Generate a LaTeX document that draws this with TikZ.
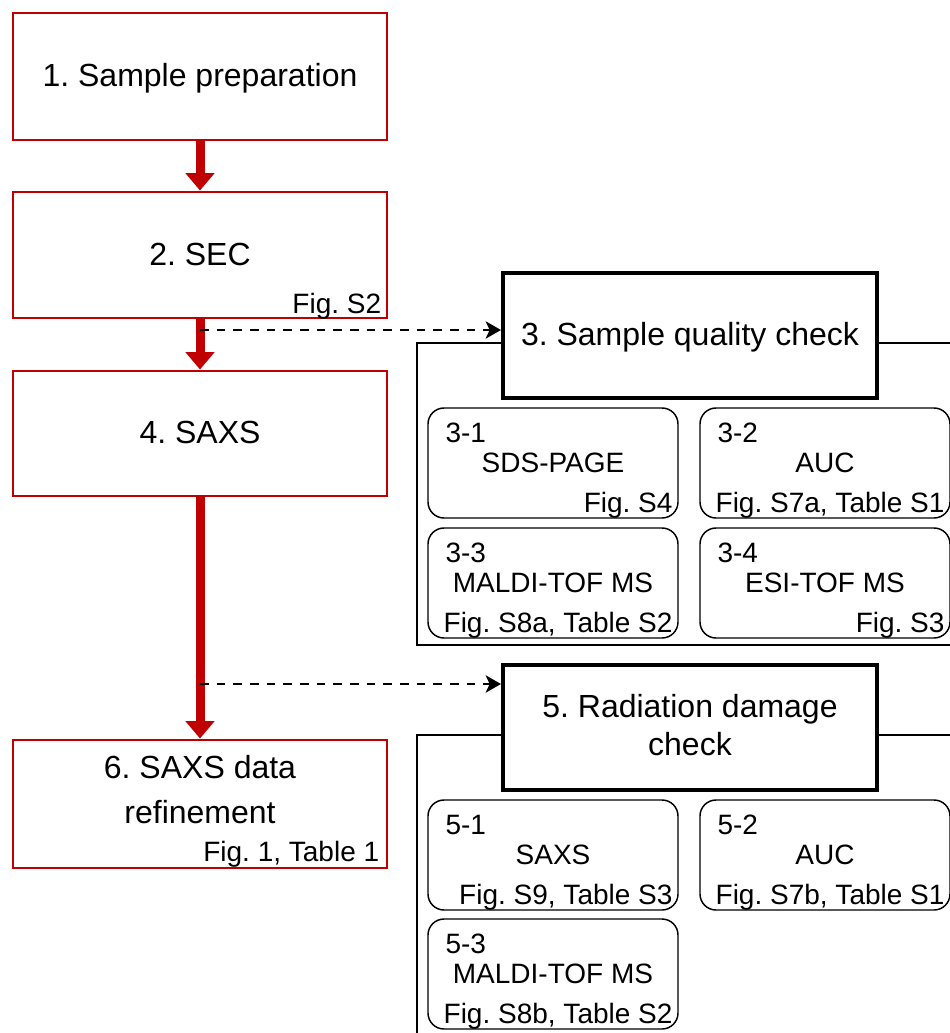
\documentclass[tikz,border=0pt]{standalone}
\usepackage{fontspec}
\setmainfont{Liberation Sans}
\usetikzlibrary{arrows.meta,calc}
\definecolor{dred}{HTML}{C00000}
\frenchspacing
\newcommand\mysub[6]{%
  \node[subbox] (#1) at (#2,#3) {};
  \node[smalltxt, anchor=base west] (#1l) at ($(#1.north west)+(18,35)$) {#4};
  \node[smalltxt, anchor=base] (#1t) at ($(#1.north)+(0,65)$) {#5};
  \node[smalltxt, anchor=base east] (#1f) at ($(#1.south east)+(-6,-6)$) {#6};
}
\begin{document}
\begin{tikzpicture}[x=0.75pt,y=-0.75pt,
  redbox/.style={draw=dred, line width=2.2pt, fill=white, minimum width=280.5pt, inner sep=0pt},
  checkbox/.style={draw=black, line width=3pt, fill=white, minimum width=280.5pt, minimum height=93.75pt, inner sep=0pt},
  subbox/.style={draw=black, line width=1.1pt, fill=white, rounded corners=12pt, minimum width=187.5pt, minimum height=82.5pt, inner sep=0pt},
  frameline/.style={draw=black, line width=1.9pt},
  bigtxt/.style={font=\fontsize{24}{28}\selectfont, inner sep=0pt, anchor=base},
  smalltxt/.style={font=\fontsize{21}{25}\selectfont, inner sep=0pt},
  redarrow/.style={draw=dred, line width=6.75pt, -{Triangle[length=13pt,width=21pt]}},
  dasharrow/.style={draw=black, line width=1.5pt, dash pattern=on 6.5pt off 6pt, -{Stealth[length=11.5pt,width=13pt,inset=3pt]}}
]
\useasboundingbox (0,0) rectangle (950,1033);
\clip (0,0) rectangle (950,1033);

% group frames
\draw[frameline] (417,343) rectangle (1000,645);
\draw[frameline] (417,735) rectangle (1000,1100);

% main red boxes
\node[redbox, minimum height=95.25pt] (b1) at (200,76.5) {};
\node[redbox, minimum height=94.5pt] (b2) at (200,255) {};
\node[redbox, minimum height=93.75pt] (b4) at (200,433.5) {};
\node[redbox, minimum height=96pt] (b6) at (200,804) {};

\node[bigtxt] (t1) at ($(b1.north)+(0,75)$) {1. Sample preparation};
\node[bigtxt] (t2) at ($(b2.north)+(0,75)$) {2. SEC};
\node[smalltxt, anchor=base east] (f2) at ($(b2.south east)+(-7,-6)$) {Fig. S2};
\node[bigtxt] (t4) at ($(b4.north)+(0,74)$) {4. SAXS};
\node[bigtxt] (t6a) at ($(b6.north)+(0,40)$) {6. SAXS data};
\node[bigtxt] (t6b) at ($(b6.north)+(0,85)$) {refinement};
\node[smalltxt, anchor=base east] (f6) at ($(b6.south east)+(-9,-8)$) {Fig. 1, Table 1};

% check boxes
\node[checkbox] (b3) at (690,335.5) {};
\node[bigtxt] (t3) at ($(b3.north)+(0,74)$) {3. Sample quality check};
\node[checkbox] (b5) at (690,727.5) {};
\node[bigtxt] (t5a) at ($(b5.north)+(0,54)$) {5. Radiation damage};
\node[bigtxt] (t5b) at ($(b5.north)+(0,92)$) {check};

% sub boxes
\mysub{s31}{553}{463}{3-1}{SDS-PAGE}{Fig. S4}
\mysub{s32}{825}{463}{3-2}{AUC}{Fig. S7a, Table S1}
\mysub{s33}{553}{583}{3-3}{MALDI-TOF MS}{Fig. S8a, Table S2}
\mysub{s34}{825}{583}{3-4}{ESI-TOF MS}{Fig. S3}
\mysub{s51}{553}{855}{5-1}{SAXS}{Fig. S9, Table S3}
\mysub{s52}{825}{855}{5-2}{AUC}{Fig. S7b, Table S1}
\mysub{s53}{553}{974}{5-3}{MALDI-TOF MS}{Fig. S8b, Table S2}

% red flow arrows
\draw[redarrow] (b1.south) -- (b2.north);
\draw[redarrow] (b2.south) -- (b4.north);
\draw[redarrow] (b4.south) -- (b6.north);

% dashed branches
\coordinate (d1) at (200,330);
\coordinate (d2) at (200,684);
\draw[dasharrow] (d1) -- (d1 -| b3.west);
\draw[dasharrow] (d2) -- (d2 -| b5.west);
\end{tikzpicture}
\end{document}
